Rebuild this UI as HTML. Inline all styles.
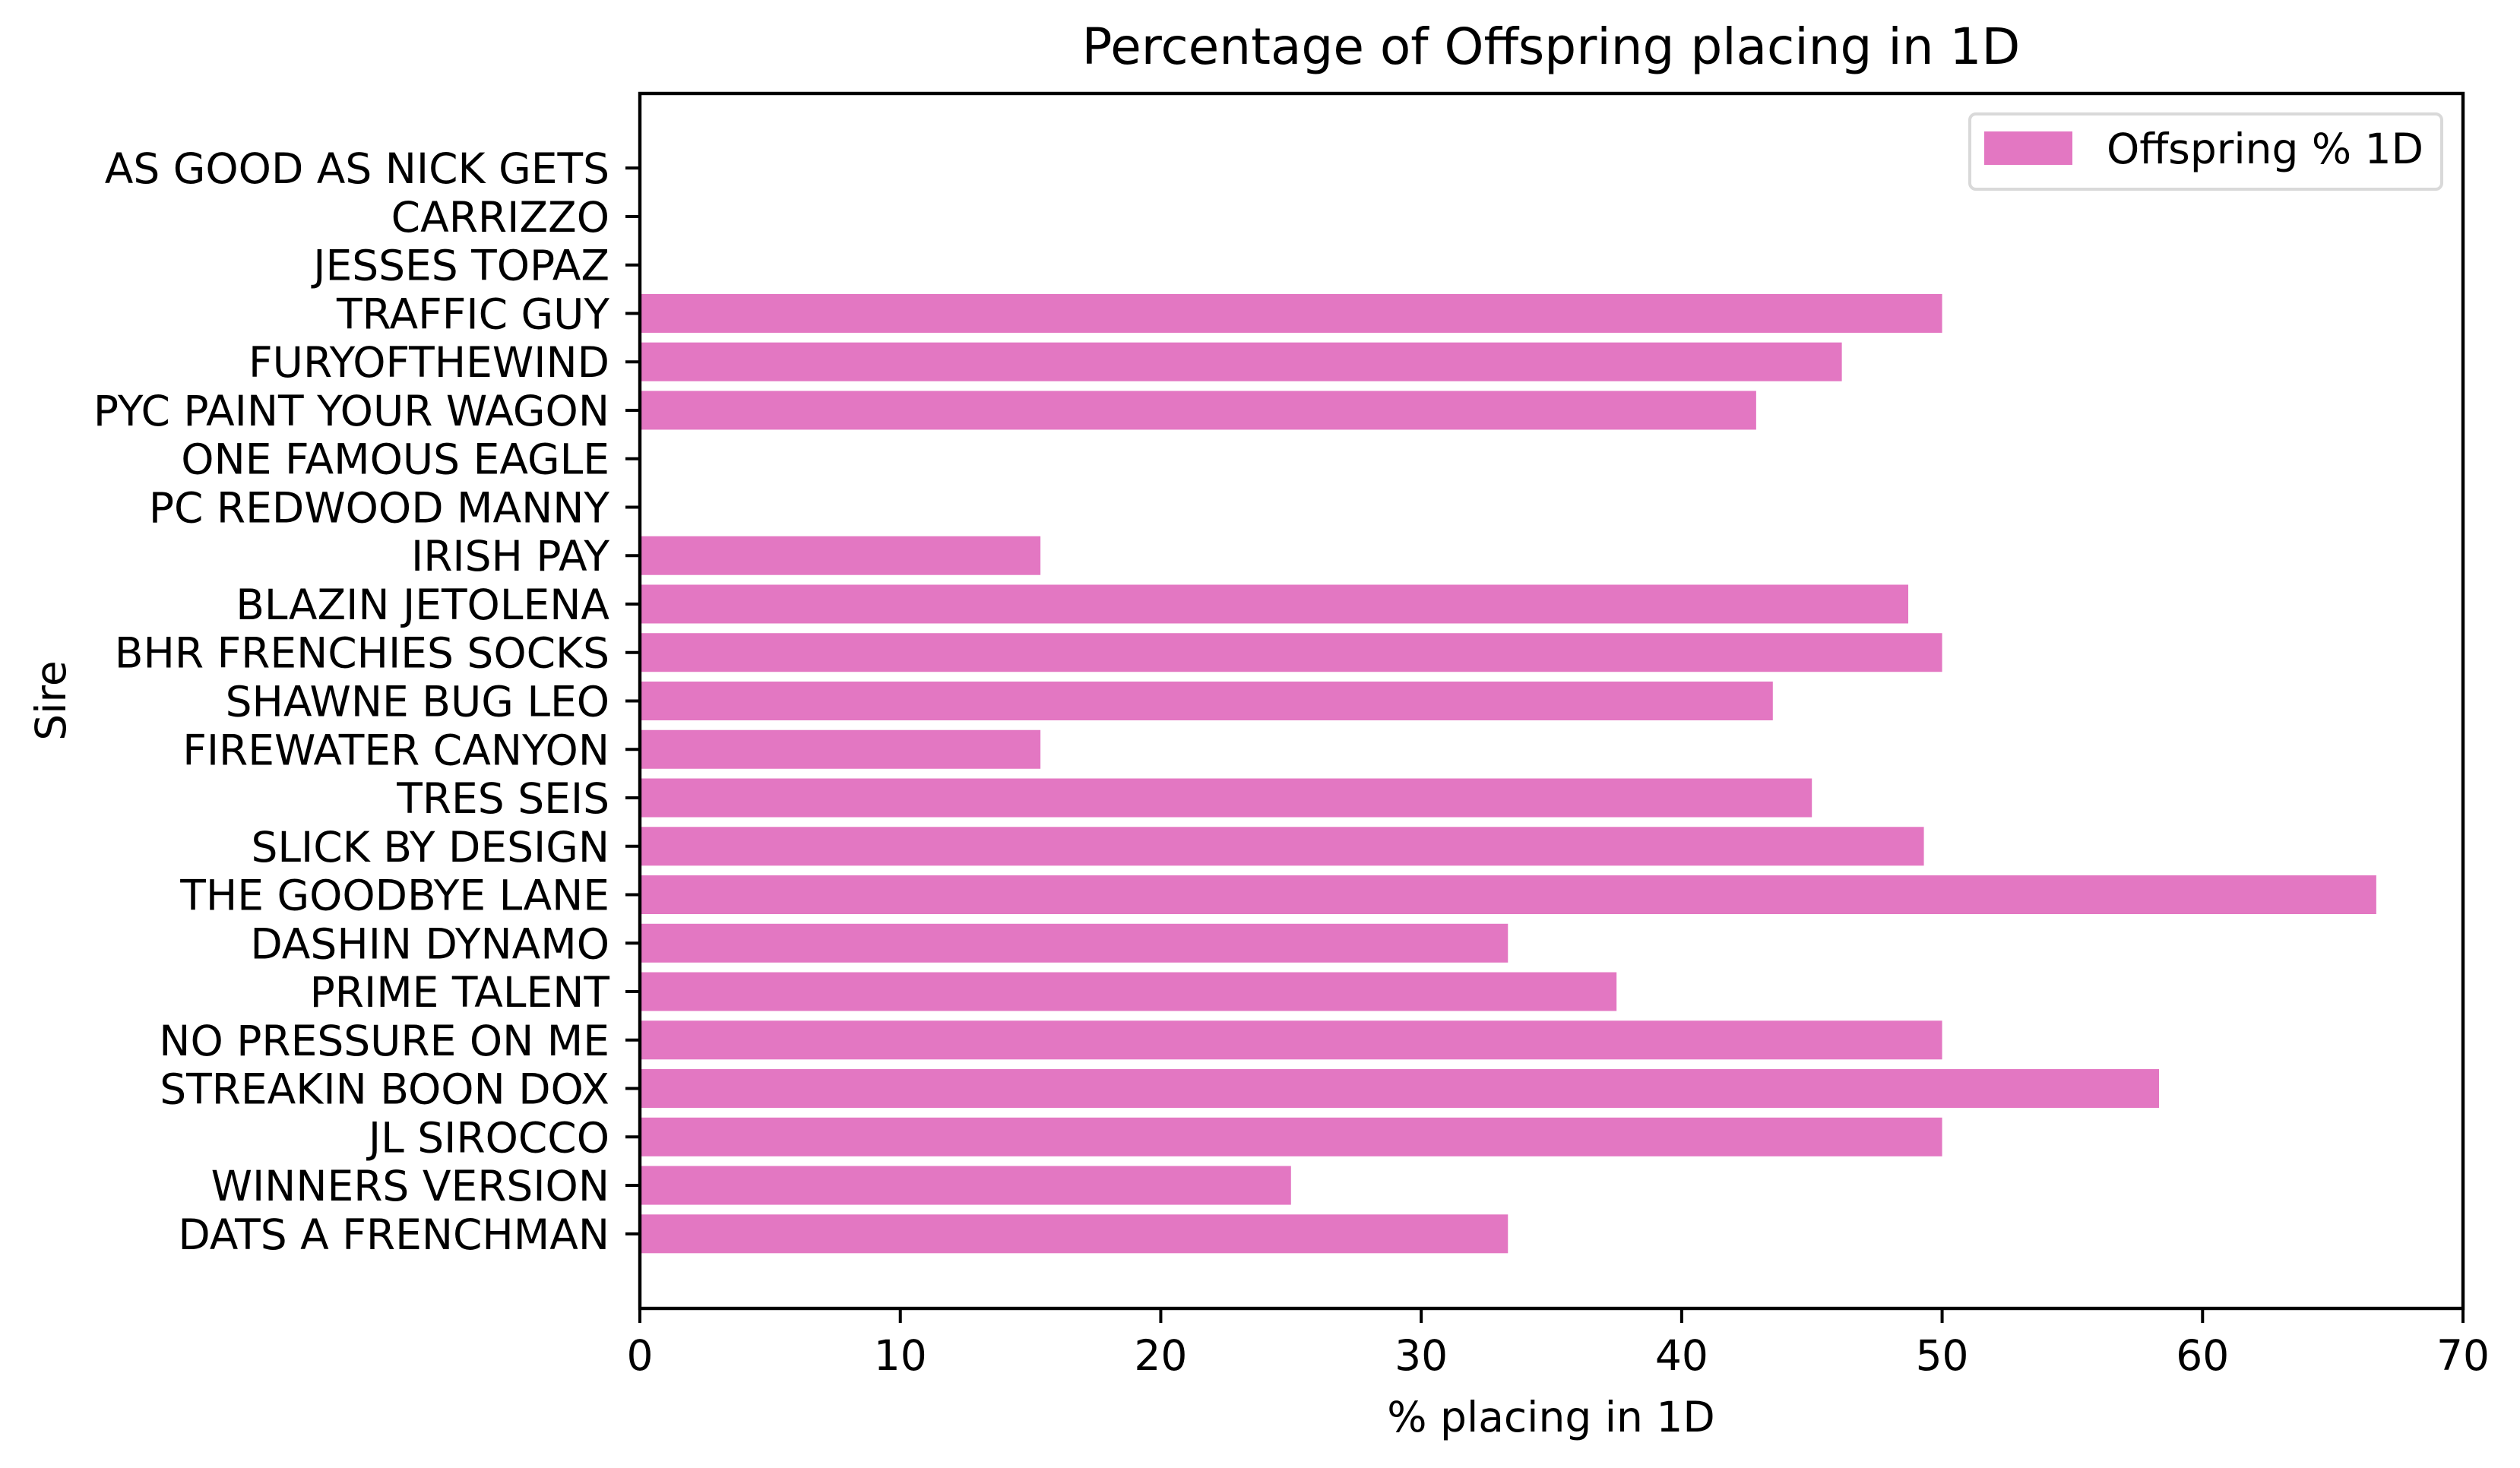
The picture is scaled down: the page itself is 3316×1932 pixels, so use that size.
<!DOCTYPE html>
<html><head><meta charset="utf-8"><style>
html,body{margin:0;padding:0;background:#fff;}
svg{display:block;font-family:"DejaVu Sans","Liberation Sans",sans-serif;}
</style></head><body>
<svg id="chart" width="3316" height="1932" viewBox="0 0 3316 1932" xmlns="http://www.w3.org/2000/svg">
<rect width="3316" height="1932" fill="#fff"/>
<g id="bars"></g>
<g id="yaxis"></g>
<g id="xaxis"></g>
<rect x="842" y="123" width="2399" height="1599" fill="none" stroke="#000" stroke-width="4.4"/>
<text x="2041" y="84" font-size="66" text-anchor="middle">Percentage of Offspring placing in 1D</text>
<text x="2041" y="1884" font-size="55" text-anchor="middle">% placing in 1D</text>
<text x="86" y="922" font-size="55" text-anchor="middle" transform="rotate(-90 86 922)">Sire</text>
<g>
<rect x="2592" y="150" width="621" height="99" rx="8" fill="#fff" stroke="#d9d9d9" stroke-width="4"/>
<rect x="2611" y="173" width="116" height="44" fill="#e377c2"/>
<text x="2772" y="215" font-size="55">Offspring % 1D</text>
</g>
</svg>
<script>
const categories = ["DATS A FRENCHMAN","WINNERS VERSION","JL SIROCCO","STREAKIN BOON DOX","NO PRESSURE ON ME","PRIME TALENT","DASHIN DYNAMO","THE GOODBYE LANE","SLICK BY DESIGN","TRES SEIS","FIREWATER CANYON","SHAWNE BUG LEO","BHR FRENCHIES SOCKS","BLAZIN JETOLENA","IRISH PAY","PC REDWOOD MANNY","ONE FAMOUS EAGLE","PYC PAINT YOUR WAGON","FURYOFTHEWIND","TRAFFIC GUY","JESSES TOPAZ","CARRIZZO","AS GOOD AS NICK GETS"];
const values = [33.33,25,50,58.33,50,37.5,33.33,66.67,49.3,45,15.38,43.5,50,48.7,15.38,0,0,42.86,46.15,50,0,0,0];
const xTicks = [0,10,20,30,40,50,60,70];

const NS="http://www.w3.org/2000/svg";
const L=842,R=3241,T=123,B=1722;
const xMin=0,xMax=70;
const yMin=-0.4-0.05*22.8, yMax=22.4+0.05*22.8;
function xs(v){return L+(v-xMin)/(xMax-xMin)*(R-L);}
function ys(v){return B-(v-yMin)/(yMax-yMin)*(B-T);}
function mk(tag,attrs,parent){const e=document.createElementNS(NS,tag);for(const k in attrs)e.setAttribute(k,attrs[k]);parent.appendChild(e);return e;}
const gb=document.getElementById('bars'),gy=document.getElementById('yaxis'),gx=document.getElementById('xaxis');
categories.forEach((c,i)=>{
  const y0=ys(i+0.4),y1=ys(i-0.4);
  const r=mk('rect',{x:xs(0),y:y0,width:Math.max(0,xs(values[i])-xs(0)),height:y1-y0,fill:'#e377c2'},gb);
  
  
  const yc=ys(i);
  const tk=mk('line',{x1:L-19,x2:L,y1:yc,y2:yc,stroke:'#000','stroke-width':4},gy);
  
  
  const t=mk('text',{x:L-40,y:yc+20,'font-size':55,'text-anchor':'end'},gy);
  t.textContent=c;
  
  
});
xTicks.forEach(v=>{
  const x=xs(v);
  const tk=mk('line',{x1:x,x2:x,y1:B,y2:B+19,stroke:'#000','stroke-width':4},gx);
  
  
  const t=mk('text',{x:x,y:1803,'font-size':55,'text-anchor':'middle'},gx);
  t.textContent=String(v);
  
  
});
</script>
</body></html>
